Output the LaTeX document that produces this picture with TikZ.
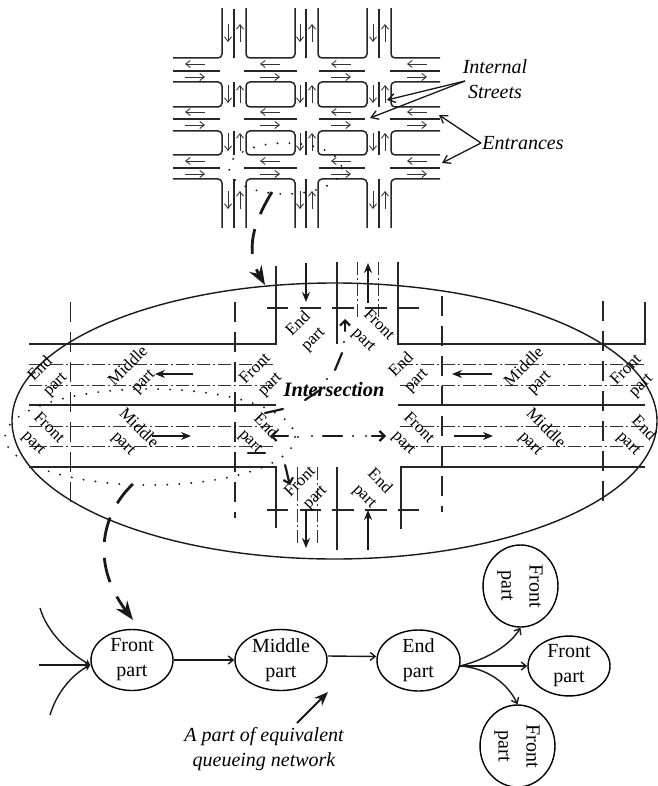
\documentclass[tikz,border=0pt]{standalone}
\usepackage{fontspec}
\setmainfont{Liberation Serif}
\usetikzlibrary{
  arrows.meta,
  shapes.geometric
}

\begin{document}
\begin{tikzpicture}[
    x=1pt, y=-1pt,
    road/.style={line width=1.5pt, black!85},
    lane/.style={line width=1pt, black!80, dash pattern=on 13pt off 3pt on 2pt off 3pt},
    cutline/.style={line width=1.3pt, black!85, dash pattern=on 20pt off 10pt},
    smallarrow/.style={line width=0.9pt, black!80, -{Straight Barb[length=4.5pt,width=7pt]}},
    trafficarrow/.style={line width=1.2pt, black!90, -{Stealth[length=10pt,width=8pt]}},
    flowmark/.style={line width=2.2pt, black!90, line cap=round},
    flowhead/.style={flowmark, -{Straight Barb[length=5pt,width=10pt]}},
    dotted ring/.style={line width=2.1pt, black!90, line cap=round, dash pattern=on 0pt off 12pt},
    zoomarrow/.style={line width=2.8pt, black!90, dash pattern=on 25pt off 16pt, -{Stealth[length=19pt,width=14pt]}},
    callout/.style={line width=1.3pt, black!90, -{Straight Barb[length=7pt,width=9pt]}},
    queue/.style={ellipse, draw, line width=1.4pt, inner sep=0pt, align=center,
      font={\fontsize{20pt}{25pt}\selectfont}},
    link/.style={line width=1.4pt, black!90, -{Straight Barb[length=5pt,width=8pt]}},
    part/.style={inner sep=0pt, align=center, rotate=45,
      font={\fontsize{16.7pt}{21pt}\selectfont}},
    partdown/.style={inner sep=0pt, align=center, rotate=-45,
      font={\fontsize{16.7pt}{21pt}\selectfont}},
    note/.style={inner sep=0pt, align=center,
      font={\fontsize{20pt}{25pt}\selectfont\itshape}}
  ]
    \useasboundingbox (0,0) rectangle (657,786);

    % street grid
    \begin{scope}
      \clip (173,9) rectangle (440,228);
      \foreach \xa/\xb in {150/222, 246/295, 318/367, 391/470}
        \foreach \ya/\yb in {-20/58, 82/107, 131/155, 179/250}
          \draw[road, rounded corners=4pt] (\xa,\ya) rectangle (\xb,\yb);
    \end{scope}
    \foreach \y in {71,119,168} {
      \draw[road] (173,\y) -- (220,\y);
      \draw[road] (244,\y) -- (297,\y);
      \draw[road] (319,\y) -- (365,\y);
      \draw[road] (390,\y) -- (440,\y);
      \foreach \x in {195,270,341,417} {
        \draw[smallarrow] (\x+10,\y-7) -- (\x-10,\y-7);
        \draw[smallarrow] (\x-10,\y+6) -- (\x+10,\y+6);
      }
    }
    \foreach \x in {234,306,379} {
      \draw[road] (\x,9) -- (\x,58);
      \draw[road] (\x,82) -- (\x,107);
      \draw[road] (\x,131) -- (\x,155);
      \draw[road] (\x,179) -- (\x,228);
      \foreach \y in {33,94,142,200} {
        \draw[smallarrow] (\x-6,\y-9) -- (\x-6,\y+9);
        \draw[smallarrow] (\x+6,\y+9) -- (\x+6,\y-9);
      }
    }
    \draw[dotted ring] (285.5,168.5) ellipse [x radius=56.5, y radius=25.5];

    \node[note] (streets) at (495,79) {Internal\\Streets};
    \node[note] (entrances) at (523,143) {Entrances};
    \coordinate (streetfork) at (465,81);
    \coordinate (streetA) at (387,100);
    \coordinate (streetB) at (370,118);
    \coordinate (entrancefork) at (481,143);
    \coordinate (entranceA) at (439,115);
    \coordinate (entranceB) at (442,163);
    \draw[callout] (streetfork) -- (streetA);
    \draw[callout] (streetfork) -- (streetB);
    \draw[callout] (entrancefork) -- (entranceA);
    \draw[callout] (entrancefork) -- (entranceB);

    % intersection
    \draw[line width=1.4pt, black!90] (334.5,421) ellipse [x radius=322.5, y radius=138];
    \draw[road] (29,344) -- (276,344) -- (276,266);
    \draw[road] (337,262) -- (337,344);
    \draw[road] (398,262) -- (398,344) -- (645,344) -- (645,302);
    \draw[road] (29,405) -- (276,405);
    \draw[road] (398,405) -- (645,405);
    \draw[road] (29,467) -- (276,467) -- (276,528);
    \draw[road] (337,467) -- (337,550);
    \draw[road] (401,529) -- (401,467) -- (645,467);
    \foreach \y in {364,385,426,446} {
      \draw[lane] (29,\y) -- (274,\y);
      \draw[lane] (400,\y) -- (645,\y);
    }
    \draw[lane] (357,262) -- (357,317);
    \draw[lane] (378,262) -- (378,317);
    \draw[lane] (297,467) -- (297,545);
    \draw[lane] (317,467) -- (317,545);
    \draw[cutline] (70.5,302) -- (70.5,508);
    \draw[cutline] (235,302) -- (235,518);
    \draw[cutline] (442,296) -- (442,512);
    \draw[cutline] (603,301) -- (603,508);
    \foreach \y in {308,510}
      \foreach \xa/\xb in {267/288, 300/321, 332/354, 365/387, 398/419}
        \draw[road] (\xa,\y) -- (\xb,\y);

    \draw[trafficarrow] (306,263) -- (306,302);
    \draw[trafficarrow] (368,303) -- (368,263);
    \draw[trafficarrow] (306,510) -- (306,548);
    \draw[trafficarrow] (368,550) -- (368,510);
    \draw[trafficarrow] (193,374) -- (155,374);
    \draw[trafficarrow] (152,436) -- (191,436);
    \draw[trafficarrow] (492,374) -- (452,374);
    \draw[trafficarrow] (454,436) -- (493,436);

    \node[part] (endW) at (48,377) {End\\part};
    \node[part] (middleW) at (136,374) {Middle\\part};
    \node[part] (frontW) at (263,377) {Front\\part};
    \node[partdown] (frontE) at (41,436) {Front\\part};
    \node[partdown] (middleE) at (131,436) {Middle\\part};
    \node[partdown] (endE) at (258,434) {End\\part};
    \node[part] (endS) at (306,332) {End\\part};
    \node[part] (frontS) at (308,490) {Front\\part};
    \node[partdown] (frontN) at (371,333) {Front\\part};
    \node[part] (endW2) at (409,373) {End\\part};
    \node[part] (middleW2) at (532,375) {Middle\\part};
    \node[part] (frontW2) at (634,378) {Front\\part};
    \node[partdown] (frontE2) at (411,436) {Front\\part};
    \node[partdown] (middleE2) at (538,436) {Middle\\part};
    \node[partdown] (endE2) at (636,436) {End\\part};
    \node[partdown] (endN) at (372,489) {End\\part};
    \node[inner sep=0pt, font={\fontsize{20.4pt}{22pt}\selectfont\bfseries\itshape}] (crossing) at (334,390) {Intersection};

    \draw[dotted ring] (150,437) ellipse [x radius=145, y radius=48];
    \draw[flowmark] (265,413) -- (283,409);
    \draw[flowmark] (248,453) -- (265,453);
    \draw[flowmark] (305,400) -- (320,390);
    \draw[flowmark] (335,370) -- (342,353);
    \draw[flowmark] (323,436) -- (342,436);
    \draw[flowhead] (288,436) -- (270,436);
    \draw[flowhead] (372,436) -- (386,436);
    \draw[flowhead] (285,465) .. controls (287,472) and (288,478) .. (290,485);
    \draw[flowhead] (345,331) -- (345,319);
    \foreach \x/\y in {344/342, 327/379, 298/437, 312/436, 353/436, 366/436}
      \fill[black!90] (\x,\y) circle [radius=1.2pt];

    % zoom curves
    \draw[zoomarrow] (272,192) .. controls (260,212) and (242,245) .. (265,285);
    \draw[zoomarrow] (133,484) .. controls (105,510) and (88,560) .. (133,620);

    % queueing network
    \node[queue, minimum width=82pt, minimum height=61pt] (front) at (132,660) {Front\\part};
    \node[queue, minimum width=92pt, minimum height=61pt] (middle) at (281,660) {Middle\\part};
    \node[queue, minimum width=83pt, minimum height=61pt] (finish) at (418.5,660.5) {End\\part};
    \node[queue, minimum width=63pt, minimum height=82pt] (frontA) at (520.5,586) {\rotatebox{-90}{\begin{tabular}{@{}c@{}}Front\\[3pt]part\end{tabular}}};
    \node[queue, minimum width=82pt, minimum height=58pt] (frontB) at (569,666) {Front\\part};
    \node[queue, minimum width=60pt, minimum height=82pt] (frontC) at (517.5,746) {\rotatebox{-90}{\begin{tabular}{@{}c@{}}Front\\[3pt]part\end{tabular}}};

    \coordinate (inA) at (40,608);
    \coordinate (inB) at (39,665);
    \coordinate (inC) at (50,715);
    \coordinate (fan) at (460,666);
    \draw[link, -{Stealth[length=6pt,width=7pt]}] (inB) -- ([yshift=-5pt]front.west);
    \draw[link, -{Stealth[length=6pt,width=7pt]}] (inA) .. controls (47,632) and (68,652) .. ([yshift=-5pt]front.west);
    \draw[link, -{Stealth[length=6pt,width=7pt]}] (inC) .. controls (57,692) and (72,675) .. ([yshift=-5pt]front.west);
    \draw[link] (front) -- (middle);
    \draw[link] ([yshift=4pt]middle.east) -- ([yshift=4pt]finish.west);
    \draw[link] (fan) .. controls (488,659) and (510,645) .. (frontA.south);
    \draw[link] (fan) -- (frontB.west);
    \draw[link] (fan) .. controls (488,668) and (508,684) .. (frontC.north);

    \node[note] (queuenote) at (264,749.5) {A part of equivalent\\queueing network};
    \coordinate (notefrom) at (297,723);
    \coordinate (noteto) at (328,692);
    \draw[line width=2pt, black!90, -{Stealth[length=14pt,width=11pt]}] (notefrom) -- (noteto);
  \end{tikzpicture}
\end{document}
